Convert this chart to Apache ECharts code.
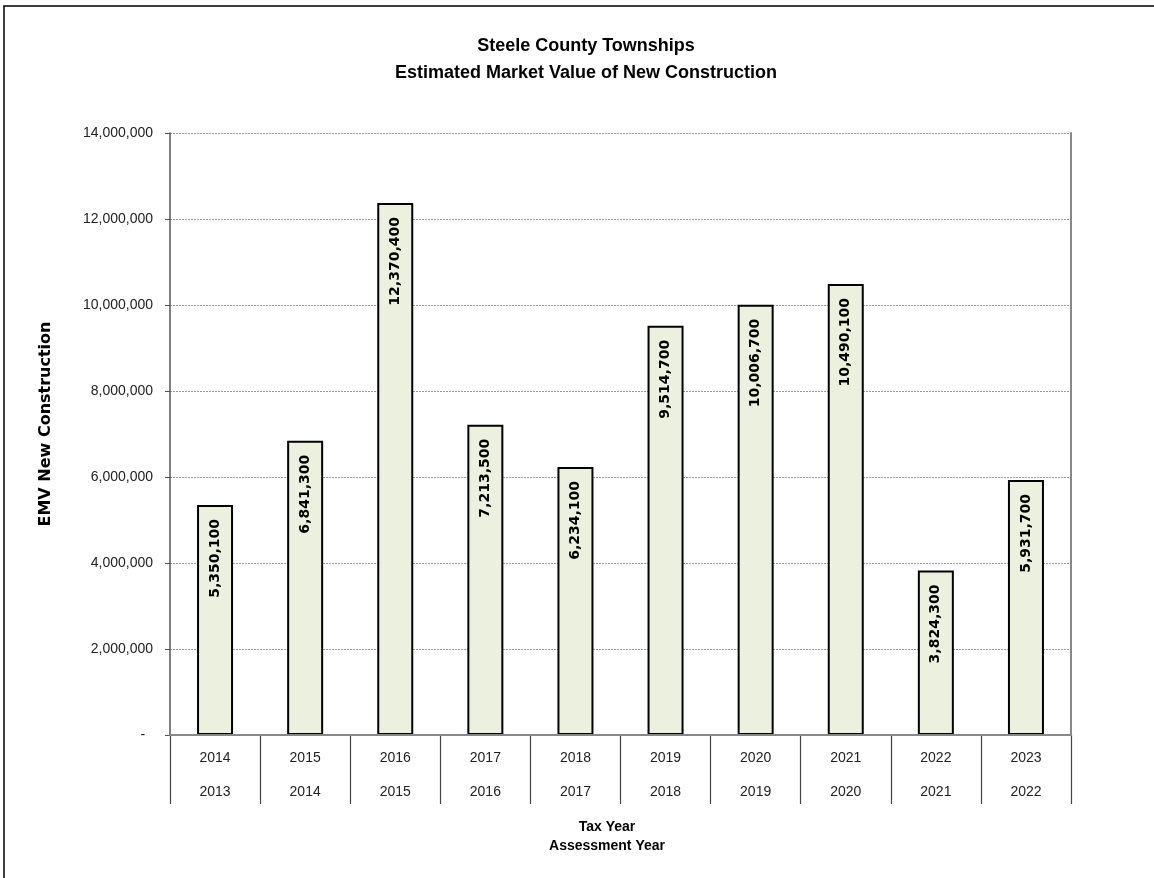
<!DOCTYPE html>
<html>
<head>
<meta charset="utf-8">
<script src="https://cdn.jsdelivr.net/npm/echarts@6/dist/echarts.min.js"></script>
<style>html,body{margin:0;padding:0;background:#fff}#c{width:1154px;height:878px}</style>
</head>
<body>
<div id="c"></div>
<script>
const taxYears = ['2014','2015','2016','2017','2018','2019','2020','2021','2022','2023'];
const assessmentYears = ['2013','2014','2015','2016','2017','2018','2019','2020','2021','2022'];
const emvValues = [5350100, 6841300, 12370400, 7213500, 6234100, 9514700, 10006700, 10490100, 3824300, 5931700];
const yTicks = { min: 0, max: 14000000, interval: 2000000 };
const titleLines = ['Steele County Townships', 'Estimated Market Value of New Construction'];
const xTitleLines = ['Tax Year', 'Assessment Year'];
const yTitle = 'EMV New Construction';

const sans = '"Liberation Sans", Arial, sans-serif';
const fmt = v => v.toLocaleString('en-US');
const categories = taxYears.map((t, i) => t + '\n' + assessmentYears[i]);

const chart = echarts.init(document.getElementById('c'), null, { renderer: 'canvas' });
chart.setOption({
  animation: false,
  backgroundColor: '#fff',
  title: {
    text: titleLines.join('\n'),
    left: 581, top: 28, textAlign: 'center',
    textStyle: { fontFamily: sans, fontWeight: 'bold', fontSize: 18, lineHeight: 27, color: '#000' }
  },
  grid: { left: 170, top: 133, right: 83, bottom: 143, containLabel: false },
  xAxis: [{
    type: 'category', data: categories, position: 'bottom',
    axisLine: { lineStyle: { color: '#000', width: 2 } },
    axisTick: { show: true, interval: 0, length: 69, lineStyle: { color: '#444', width: 1.2 } },
    axisLabel: { interval: 0, margin: 6, fontFamily: sans, fontSize: 14, lineHeight: 34, color: '#222' }
  }, {
    type: 'category', data: categories, position: 'top', z: 5,
    axisLine: { show: true, lineStyle: { color: '#888', width: 2 } },
    axisTick: { show: false }, axisLabel: { show: false }
  }],
  yAxis: [{
    type: 'value', min: yTicks.min, max: yTicks.max, interval: yTicks.interval,
    axisLine: { show: true, lineStyle: { color: '#555', width: 1.5 } },
    axisTick: { show: true, length: 5, lineStyle: { color: '#555' } },
    axisLabel: { margin: 17, fontFamily: sans, fontSize: 14, color: '#222',
      formatter: v => v === 0 ? '-  ' : fmt(v) },
    splitLine: { show: true, lineStyle: { color: '#999', type: [2, 1], width: 1 } }
  }, {
    type: 'value', min: yTicks.min, max: yTicks.max, interval: yTicks.interval, position: 'right', z: 5,
    axisLine: { show: true, lineStyle: { color: '#888', width: 2 } },
    axisTick: { show: false }, axisLabel: { show: false }, splitLine: { show: false }
  }],
  series: [{
    type: 'bar', data: emvValues, barWidth: 36,
    itemStyle: { color: '#EBF1DE', borderColor: '#000', borderWidth: 2 },
    label: {
      show: true, position: 'insideTop', distance: 14, rotate: 90,
      align: 'right', verticalAlign: 'middle',
      formatter: p => fmt(p.value),
      fontFamily: '"DejaVu Sans", sans-serif', fontWeight: 'bold', fontSize: 14, color: '#000'
    }
  }],
  graphic: [
    { type: 'rect', shape: { x: 4, y: 6, width: 1300, height: 1000 },
      style: { fill: 'none', stroke: '#000', lineWidth: 1.5 }, silent: true },
    { type: 'text', x: 607, y: 837,
      style: { text: xTitleLines.join('\n'), textAlign: 'center', textVerticalAlign: 'middle',
        font: 'bold 14px ' + sans, lineHeight: 19, fill: '#000' } },
    { type: 'text', x: 46, y: 424, rotation: Math.PI / 2,
      style: { text: yTitle, textAlign: 'center', textVerticalAlign: 'middle',
        font: 'bold 16px "DejaVu Sans", sans-serif', fill: '#000' } }
  ]
});
</script>
</body>
</html>
